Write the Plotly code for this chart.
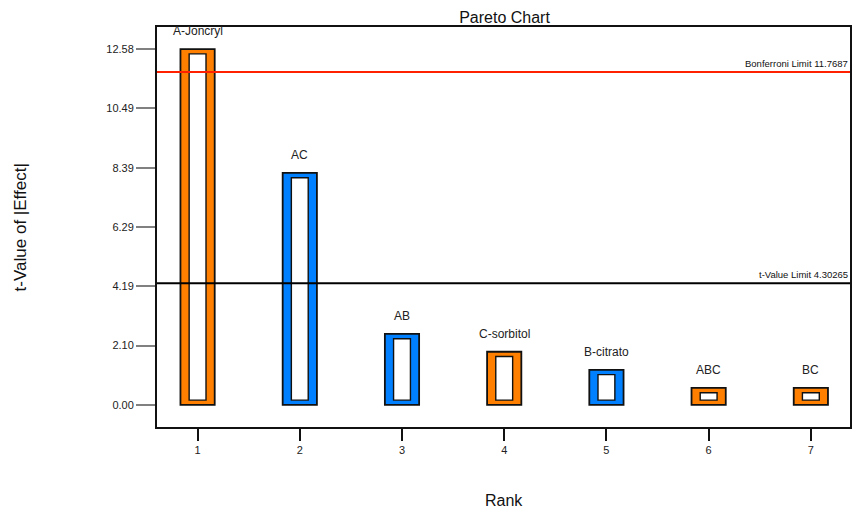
import plotly.graph_objects as go

# ---- data ----
ranks = [1, 2, 3, 4, 5, 6, 7]
terms = ["A-Joncryl", "AC", "AB", "C-sorbitol", "B-citrato", "ABC", "BC"]
t_values = [12.58, 8.20, 2.51, 1.88, 1.24, 0.60, 0.60]
effect_sign = ["+", "-", "-", "+", "-", "+", "+"]
limit_names = ["Bonferroni Limit", "t-Value Limit"]
limit_values = [11.7687, 4.30265]
limit_colors = ["#FF2000", "#000000"]
y_tick_vals = [0.0, 2.0967, 4.1933, 6.29, 8.3867, 10.4833, 12.58]
y_tick_text = ["0.00", "2.10", "4.19", "6.29", "8.39", "10.49", "12.58"]

# ---- style ----
ORANGE = "#FF8000"
BLUE = "#0080FF"
colors = [ORANGE if s == "+" else BLUE for s in effect_sign]
W, H = 853, 510
ML, MR, MT, MB = 157, 1, 27, 83
y_range = [-0.78, 13.36]
x_range = [0.603, 7.383]
plot_h = H - MT - MB
px_per_unit = plot_h / (y_range[1] - y_range[0])
inset = 4.8 / px_per_unit
FONT = "Liberation Sans, Arial, sans-serif"

fig = go.Figure()
fig.add_trace(go.Bar(
    x=ranks, y=t_values, width=0.335,
    marker=dict(color=colors, line=dict(color="#111111", width=1.8)),
    hoverinfo="x+y", showlegend=False,
))
fig.add_trace(go.Bar(
    x=ranks, y=[v - 2 * inset for v in t_values], base=[inset] * len(t_values),
    width=0.165,
    marker=dict(color="white", line=dict(color="#111111", width=1.4)),
    hoverinfo="skip", showlegend=False,
))

shapes = []
annotations = []
for name, val, col in zip(limit_names, limit_values, limit_colors):
    shapes.append(dict(type="line", xref="paper", x0=0, x1=1, yref="y", y0=val, y1=val,
                       line=dict(color=col, width=2)))
    annotations.append(dict(xref="paper", x=1, xanchor="right", yref="y", y=val,
                            yanchor="bottom", yshift=1, showarrow=False,
                            text=f"{name} {val:g}",
                            font=dict(family=FONT, size=9.5, color="#111111")))

for r, t, v in zip(ranks, terms, t_values):
    annotations.append(dict(x=r, y=v, xref="x", yref="y", yanchor="bottom", yshift=9,
                            showarrow=False, text=t,
                            font=dict(family=FONT, size=12, color="#222222")))

annotations.append(dict(xref="paper", yref="paper", x=-(ML - 20) / (W - ML - MR), y=0.5,
                        xanchor="center", yanchor="middle", textangle=-90, showarrow=False,
                        text="t-Value of |Effect|",
                        font=dict(family=FONT, size=17, color="#111111")))
annotations.append(dict(xref="paper", yref="paper", x=0.5, y=-(500 - (H - MB)) / plot_h,
                        xanchor="center", yanchor="middle", showarrow=False,
                        text="Rank", font=dict(family=FONT, size=16, color="#111111")))

fig.update_layout(
    width=W, height=H,
    margin=dict(l=ML, r=MR, t=MT, b=MB),
    paper_bgcolor="white", plot_bgcolor="white",
    barmode="overlay",
    title=dict(text="Pareto Chart", x=(ML + (W - MR - ML) / 2) / W, xanchor="center",
               y=1 - 17 / H, yanchor="middle", yref="container",
               font=dict(family=FONT, size=16, color="#111111")),
    shapes=shapes, annotations=annotations,
    font=dict(family=FONT, color="#222222"),
)
fig.update_xaxes(range=x_range, tickvals=ranks, ticktext=[str(r) for r in ranks],
                 ticks="outside", ticklen=12, tickwidth=2, tickcolor="#111111",
                 showgrid=False, zeroline=False, showline=True, linecolor="#111111",
                 linewidth=2, mirror=True, tickfont=dict(family=FONT, size=11, color="#222222"))
fig.update_yaxes(range=y_range, tickvals=y_tick_vals, ticktext=y_tick_text,
                 ticks="outside", ticklen=19, tickwidth=1.5, tickcolor="#808080",
                 showgrid=False, zeroline=False, showline=True, linecolor="#111111",
                 linewidth=2, mirror=True, tickfont=dict(family=FONT, size=11, color="#222222"))

fig.write_html("out.html", config={"displayModeBar": False},
               post_script="document.body.style.margin='0';document.body.style.overflow='hidden';")
